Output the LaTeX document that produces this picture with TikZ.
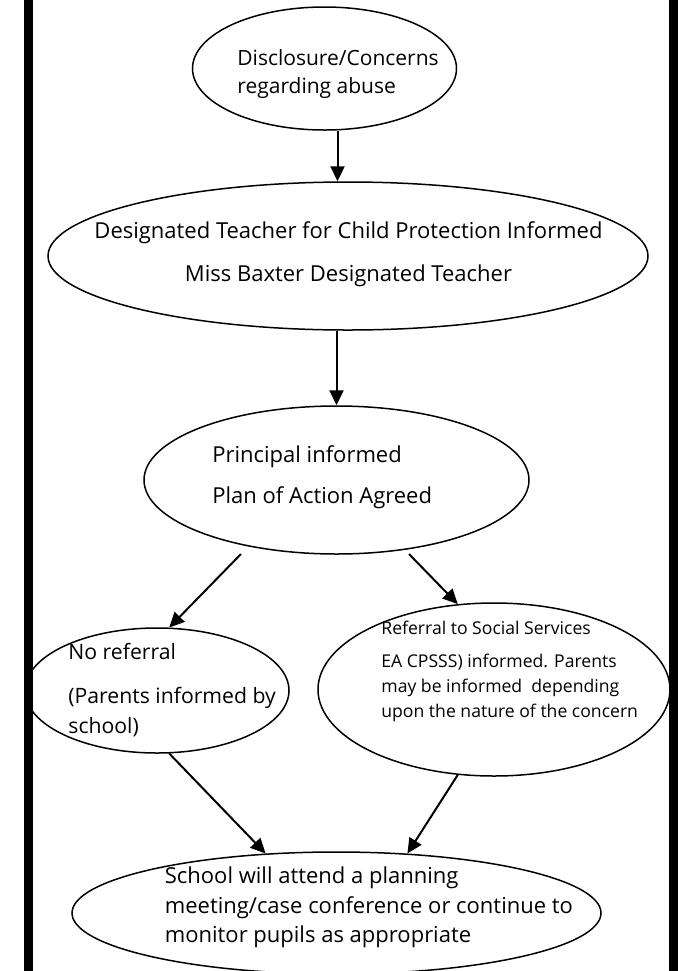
\documentclass[tikz,border=0pt]{standalone}
\usepackage{fontspec}
\setmainfont{Open Sans}
\usetikzlibrary{arrows.meta,shapes.geometric}

\tikzset{
  oval/.style={draw, ellipse, line width=0.75pt, inner sep=0pt},
  txt/.style={inner sep=0pt, align=left, anchor=west,
    font=\fontsize{11}{14}\selectfont},
  arr/.style={-{Triangle[length=7.5pt,width=7pt]}, line width=1pt},
}

\begin{document}
\begin{tikzpicture}[x=0.5pt,y=-0.5pt]
  \useasboundingbox (0,0) rectangle (678,971);
  % side bars
  \fill (24,0) rectangle (33,971);
  \fill (669,0) rectangle (678,971);

  % ovals
  \node[oval, minimum width=132pt, minimum height=61.5pt] (discl) at (324.5,68.5) {};
  \node[oval, minimum width=300pt, minimum height=74pt] (dt) at (348,256) {};
  \node[oval, minimum width=192.5pt, minimum height=74pt] (princ) at (336.5,480) {};
  \node[oval, minimum width=132pt, minimum height=62.5pt] (noref) at (157,690.5) {};
  \node[oval, minimum width=176pt, minimum height=86.5pt] (refer) at (494,689.5) {};
  \node[oval, minimum width=264.5pt, minimum height=61pt] (school) at (336.5,913) {};

  % texts
  \node[txt, font=\fontsize{10.5}{14}\selectfont] (discltxt) at (237,74)
    {Disclosure/Concerns\\regarding abuse};
  \node[txt, align=center, anchor=center] (dttxt) at (348.5,254.5)
    {Designated Teacher for Child Protection Informed\\[7.5pt]Miss Baxter Designated Teacher};
  \node[txt] (princtxt) at (212,477.5) {Principal informed\\[6.5pt]Plan of Action Agreed};
  \node[txt, font=\fontsize{10.6}{15}\selectfont] (noreftxt) at (68,690)
    {No referral\\[7pt](Parents informed by\\school)};
  \node[txt, font=\fontsize{8.8}{12.5}\selectfont] (refertxt) at (381,671.5)
    {Referral to Social Services\\[4pt]EA CPSSS) informed. Parents\\may be informed~ depending\\upon the nature of the concern};
  \node[txt, font=\fontsize{11}{14.75}\selectfont] (schooltxt) at (164.5,907.5)
    {School will attend a planning\\meeting/case conference or continue to\\monitor pupils as appropriate};

  % arrows
  \coordinate (splitL) at (241,554);
  \coordinate (splitR) at (409,554);
  \draw[arr] (dt.98 |- discl.south) -- (dt.98);
  \draw[arr] (princ.north |- dt.south) -- (princ.north);
  \draw[arr] (splitL) -- (noref.79);
  \draw[arr] (splitR) -- (refer.113);
  \draw[arr] (noref.-79) -- (school.140);
  \draw[arr] (refer.-113) -- (school.40);
\end{tikzpicture}
\end{document}
